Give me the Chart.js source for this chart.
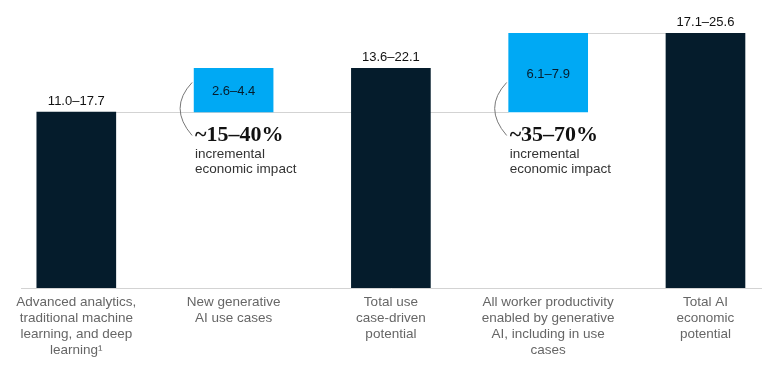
<!DOCTYPE html>
<html>
<head>
<meta charset="utf-8">
<script src="https://cdn.jsdelivr.net/npm/chart.js@4"></script>
<style>
  html, body { margin: 0; padding: 0; background: #fff; }
  #wrap { width: 775px; height: 367px; position: relative; }
</style>
</head>
<body>
<div id="wrap"><canvas id="aiChart"></canvas></div>
<script>
// ---------- DATA ----------
const categories = [
    ["Advanced analytics,", "traditional machine", "learning, and deep", "learning\u00B9"],
    ["New generative", "AI use cases"],
    ["Total use", "case-driven", "potential"],
    ["All worker productivity", "enabled by generative", "AI, including in use", "cases"],
    ["Total AI", "economic", "potential"]
];
const lowValues = [11.0, 2.6, 13.6, 6.1, 17.1];
const highValues = [17.7, 4.4, 22.1, 7.9, 25.6];
const isIncrement = [false, true, false, true, false];
const impactLabels = [null, "~15\u201340%", null, "~35\u201370%", null];

const DARK = "#051c2c";
const BLUE = "#00a9f4";
const LINE_GRAY = "#d3d3d3";
const SANS = "'Liberation Sans', Arial, sans-serif";
const SERIF = "'Liberation Serif', 'Times New Roman', serif";

// increments sit on top of the first bar, totals start at zero
const base = highValues[0];
const barData = highValues.map((v, i) => ({
    x: i,
    y: isIncrement[i] ? [base, base + v] : [0, v]
}));

function rangeText(i) {
    return lowValues[i].toFixed(1) + "\u2013" + highValues[i].toFixed(1);
}

// ---------- DECORATION PLUGIN ----------
const waterfallDecor = {
    id: "waterfallDecor",
    beforeDatasetsDraw(chart) {
        const ctx = chart.ctx;
        const bars = chart.getDatasetMeta(0).data;
        const y = chart.scales.y;
        const half = i => bars[i].width / 2;
        const y1 = Math.round(y.getPixelForValue(base)) + 0.5;
        const y2 = Math.round(y.getPixelForValue(base + highValues[3])) + 0.5;

        ctx.save();
        ctx.strokeStyle = LINE_GRAY;
        ctx.lineWidth = 1;
        ctx.beginPath();
        ctx.moveTo(bars[0].x + half(0), y1);
        ctx.lineTo(bars[3].x - half(3), y1);
        ctx.moveTo(bars[3].x + half(3), y2);
        ctx.lineTo(bars[4].x - half(4), y2);
        ctx.stroke();
        ctx.restore();
    },
    afterDatasetsDraw(chart) {
        const ctx = chart.ctx;
        const bars = chart.getDatasetMeta(0).data;
        const y = chart.scales.y;
        const baseY = y.getPixelForValue(base);

        ctx.save();
        bars.forEach((bar, i) => {
            const left = bar.x - bar.width / 2;
            ctx.textAlign = "center";
            ctx.textBaseline = "alphabetic";
            ctx.font = "13px " + SANS;
            if (isIncrement[i]) {
                ctx.fillStyle = DARK;
                ctx.fillText(rangeText(i), bar.x, (bar.y + bar.base) / 2 + 5);

                // bracket arc
                ctx.strokeStyle = "#777";
                ctx.lineWidth = 1;
                ctx.beginPath();
                ctx.moveTo(left - 2, baseY - 29.5);
                ctx.quadraticCurveTo(left - 26, baseY - 4, left - 2, baseY + 23.5);
                ctx.stroke();

                ctx.textAlign = "left";
                ctx.fillStyle = "#111";
                ctx.font = "bold 22px " + SERIF;
                ctx.fillText(impactLabels[i], left + 1, baseY + 29);
                ctx.font = "13.5px " + SANS;
                ctx.fillStyle = "#333";
                ctx.fillText("incremental", left + 1, baseY + 46);
                ctx.fillText("economic impact", left + 1, baseY + 61.5);
            } else {
                ctx.fillStyle = "#111";
                ctx.fillText(rangeText(i), bar.x, bar.y - 7);
            }
        });
        ctx.restore();
    }
};

// ---------- CHART ----------
const ctx = document.getElementById("aiChart").getContext("2d");

new Chart(ctx, {
    type: "bar",
    data: {
        datasets: [{
            label: "Economic potential",
            data: barData,
            backgroundColor: isIncrement.map(f => f ? BLUE : DARK),
            borderWidth: 0,
            barThickness: 79
        }]
    },
    options: {
        responsive: true,
        maintainAspectRatio: false,
        animation: false,
        layout: { padding: { left: 21, right: 14, top: 0, bottom: 0 } },
        plugins: {
            legend: { display: false },
            tooltip: { enabled: false }
        },
        scales: {
            x: {
                type: "linear",
                offset: false,
                min: -0.3516,
                max: 4.353,
                grid: { display: false, drawTicks: false, offset: false },
                border: { display: true, color: LINE_GRAY, width: 1 },
                afterBuildTicks: scale => {
                    scale.ticks = categories.map((c, i) => ({ value: i }));
                },
                afterFit: scale => { scale.height = 79; },
                ticks: {
                    autoSkip: false,
                    maxRotation: 0,
                    minRotation: 0,
                    padding: 6,
                    color: "#666",
                    font: { family: SANS, size: 13.5, lineHeight: "16px" },
                    callback: value => categories[value]
                }
            },
            y: {
                display: false,
                min: 0,
                max: 28.96
            }
        }
    },
    plugins: [waterfallDecor]
});
</script>
</body>
</html>
